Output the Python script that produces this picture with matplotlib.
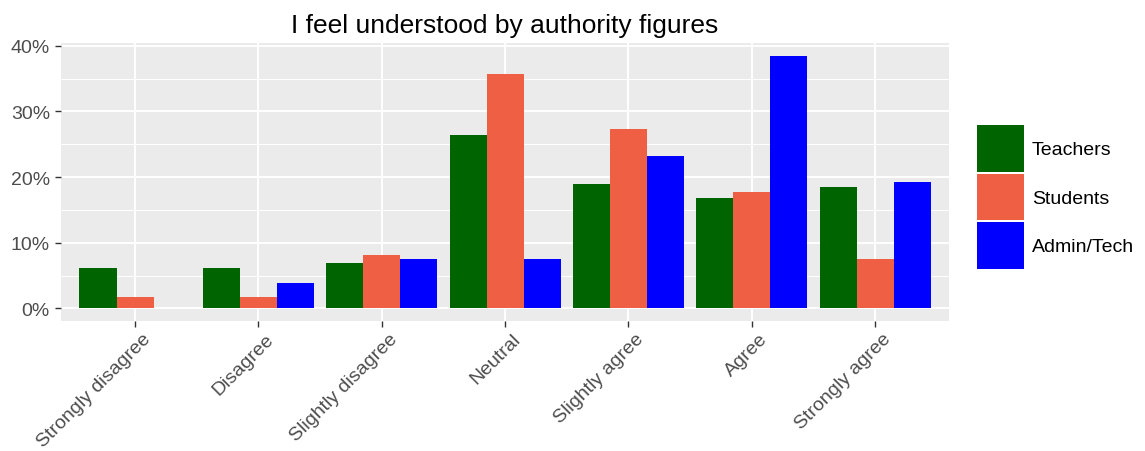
import numpy as np
import matplotlib
matplotlib.use('Agg')
import matplotlib.pyplot as plt
import matplotlib.transforms as mtransforms
from matplotlib.patches import Patch
from matplotlib.ticker import MultipleLocator, FuncFormatter

plt.rcParams['font.family'] = ['Liberation Sans', 'DejaVu Sans']

# 数据
categories = ['Strongly disagree', 'Disagree', 'Slightly disagree', 'Neutral',
              'Slightly agree', 'Agree', 'Strongly agree']
groups = ['Teachers', 'Students', 'Admin/Tech']
teachers = [6.1, 6.1, 6.9, 26.4, 19.0, 16.8, 18.5]
students = [1.7, 1.7, 8.1, 35.7, 27.3, 17.8, 7.5]
admin = [0.0, 3.8, 7.5, 7.5, 23.2, 38.5, 19.3]
colors = ['#006400', '#EE5F43', '#0000FF']

series = [teachers, students, admin]

fig = plt.figure(figsize=(11.45, 4.52), dpi=100)
ax = fig.add_axes([61 / 1145, 1 - 322 / 452, (949 - 61) / 1145, (322 - 44) / 452])
ax.set_facecolor('#EBEBEB')

x = np.arange(1, len(categories) + 1)
w = 0.3
for i, (vals, c) in enumerate(zip(series, colors)):
    ax.bar(x + (i - 1) * w, vals, width=w, color=c, zorder=3)

ymax = max(max(s) for s in series)
ax.set_ylim(-0.05 * ymax, ymax * 1.05)
ax.set_xlim(0.4, len(categories) + 0.6)

ax.yaxis.set_major_locator(MultipleLocator(10))
ax.yaxis.set_minor_locator(MultipleLocator(5))
ax.yaxis.set_major_formatter(FuncFormatter(lambda v, p: '%d%%' % v))
ax.set_xticks(x)
ax.set_xticklabels(categories, rotation=45, ha='right', va='top', rotation_mode='anchor')

ax.grid(which='major', color='white', linewidth=1.4, zorder=0)
ax.grid(which='minor', axis='y', color='white', linewidth=0.7, zorder=0)
ax.tick_params(which='major', length=4.5, color='#333333', labelcolor='#4D4D4D',
               labelsize=14, width=1)
ax.tick_params(which='minor', length=0)
ax.tick_params(axis='x', pad=2)
for s in ax.spines.values():
    s.set_visible(False)

# 旋转标签稍微右移
shift = mtransforms.ScaledTranslation(7 / 100, 0, fig.dpi_scale_trans)
for lab in ax.get_xticklabels():
    lab.set_transform(lab.get_transform() + shift)

ax.set_title('I feel understood by authority figures', fontsize=19, pad=8)

handles = [Patch(facecolor=c, edgecolor='none') for c in colors]
fig.legend(handles, groups, loc='center left', bbox_to_anchor=(977 / 1145, 1 - 198 / 452),
           frameon=False, fontsize=14, handlelength=2.41, handleheight=3.34,
           labelspacing=0.1, handletextpad=0.4, borderpad=0, borderaxespad=0)

fig.savefig('out.png', dpi=100)
